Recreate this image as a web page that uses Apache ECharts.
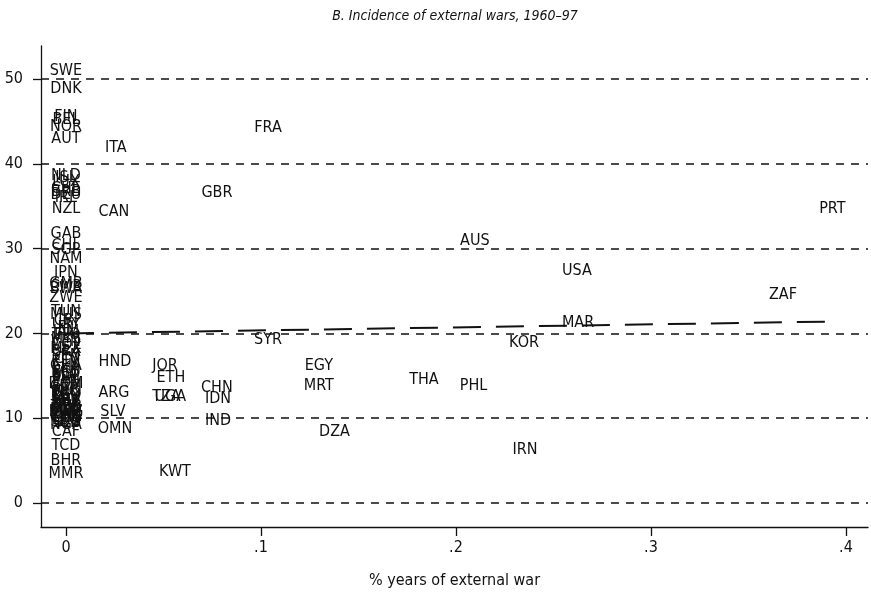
<!DOCTYPE html>
<html>
<head>
<meta charset="utf-8">
<script src="https://cdn.jsdelivr.net/npm/echarts@6/dist/echarts.min.js"></script>
<style>
html,body{margin:0;padding:0;background:#fff;}
#chart{width:871px;height:599px;}
</style>
</head>
<body>
<div id="chart"></div>
<script>
// Country codes, % years of external war (x), outcome value (y)
var codes = [
  "FRA","ITA","GBR","CAN","PRT","AUS","USA","ZAF","MAR","KOR","SYR","EGY","MRT","THA","PHL","IRN","DZA",
  "HND","ARG","SLV","OMN","JOR","ETH","TZA","UGA","CHN","IDN","IND","KWT",
  "SWE","DNK","FIN","BEL","NOR","AUT","NLD","ISL","LUX","CHE","BRB","DEU","IRL","NZL",
  "GAB","CHL","SGP","NAM","JPN","GMB","CMR","BWA","ZWE","TUN","MUS",
  "CRI","URY","FJI","JAM","TTO","MYS","VEN","COL","MEX","BRA","SEN","CIV","KEN","GHA","LKA","ECU","MLT",
  "BOL","PRY","PAN","DOM","GTM","PER","PNG","NIC","TGO","BEN","HTI","MLI","NER","NPL","BFA","ZMB","BGD",
  "MWI","SWZ","MDG","ZAR","RWA","BDI","COG","LSO","SDN","SLE","NGA",
  "CAF","TCD","BHR","MMR"
];
var xs = [
  0.1036,0.0256,0.0774,0.0246,0.393,0.2097,0.262,0.3677,0.2626,0.2349,0.1036,0.1297,0.1297,0.1836,0.209,0.2354,0.1377,
  0.0251,0.0246,0.0241,0.0251,0.0508,0.0538,0.0515,0.0535,0.0774,0.078,0.078,0.0559,
  0,0,0,0,0,0,0,0,0,0,0,0,0,0,
  0,0,0,0,0,0,0,0,0,0,0,
  0,0,0,0,0,0,0,0,0,0,0,0,0,0,0,0,0,
  0,0,0,0,0,0,0,0,0,0,0,0,0,0,0,0,0,
  0,0,0,0,0,0,0,0,0,0,0,
  0,0,0,0
];
var ys = [
  44.2,41.9,36.6,34.3,34.7,30.9,27.4,24.6,21.2,18.9,19.3,16.2,13.8,14.5,13.8,6.3,8.4,
  16.6,13.0,10.7,8.7,16.2,14.8,12.5,12.5,13.6,12.3,9.7,3.7,
  51.0,48.9,45.6,45.2,44.4,43.0,38.6,38.3,37.9,37.0,36.7,36.3,36.0,34.7,
  31.8,30.3,29.9,28.8,27.1,25.8,25.5,25.2,24.2,22.6,22.2,
  21.5,21.0,20.6,20.2,19.8,19.4,19.0,18.6,18.2,17.8,17.4,17.0,16.6,16.2,15.8,15.4,15.2,
  15.0,14.6,14.3,14.0,13.7,13.4,13.0,13.1,12.8,12.5,12.0,12.2,11.9,11.5,11.6,11.3,11.0,
  11.0,10.8,10.7,10.5,10.4,10.1,10.0,9.8,9.6,9.5,9.2,
  8.4,6.7,5.0,3.4
];
// Fitted line endpoints
var fitX = [0, 0.393];
var fitY = [20.0, 21.4];
// Tick values
var xTicks = [0, 0.1, 0.2, 0.3, 0.4];
var xTickLabels = ["0", ".1", ".2", ".3", ".4"];
var yTicks = [0, 10, 20, 30, 40, 50];

var FONT = "'Liberation Sans Narrow','DejaVu Sans Condensed','Roboto Condensed',sans-serif";
var INK = "#111111";

var pts = codes.map(function(c, i){ return {name: c, value: [xs[i], ys[i]]}; });
var fitData = fitX.map(function(x, i){ return [x, fitY[i]]; });

var chart = echarts.init(document.getElementById('chart'), null, {renderer: 'canvas'});
chart.setOption({
  animation: false,
  backgroundColor: '#fff',
  title: {
    text: 'B. Incidence of external wars, 1960\u201397',
    left: 450, top: 4, textAlign: 'center',
    textStyle: {fontFamily: FONT, fontStyle: 'italic', fontWeight: 'normal', fontSize: 14, color: INK}
  },
  grid: {left: 41, right: 3, top: 46, bottom: 72},
  xAxis: {
    type: 'value', min: -0.0128, max: 0.4113,
    name: '% years of external war', nameLocation: 'middle', nameGap: 46,
    nameTextStyle: {fontFamily: FONT, fontSize: 16, color: INK},
    axisLine: {show: true, onZero: false, lineStyle: {color: INK, width: 1.3}},
    axisTick: {show: true, customValues: xTicks, length: 9, lineStyle: {color: INK, width: 1.3}},
    axisLabel: {show: true, customValues: xTicks, margin: 13, fontFamily: FONT, fontSize: 16, color: INK,
      formatter: function(v){ var i = xTicks.findIndex(function(t){return Math.abs(t - v) < 1e-9;}); return i >= 0 ? xTickLabels[i] : ''; }},
    splitLine: {show: false}
  },
  yAxis: {
    type: 'value', min: -2.83, max: 53.9,
    axisLine: {show: true, onZero: false, lineStyle: {color: INK, width: 1.3}},
    axisTick: {show: true, customValues: yTicks, length: 8, lineStyle: {color: INK, width: 1.3}},
    axisLabel: {show: true, customValues: yTicks, margin: 18, fontFamily: FONT, fontSize: 16, color: INK},
    splitLine: {show: false}
  },
  series: [
    {
      type: 'line', data: fitData, symbol: 'none', silent: true, z: 3,
      lineStyle: {color: INK, width: 2, type: [28, 15]},
      markLine: {
        silent: true, symbol: 'none', animation: false,
        label: {show: false},
        lineStyle: {color: INK, width: 1.5, type: [8, 7]},
        data: yTicks.map(function(v){ return {yAxis: v}; })
      }
    },
    {
      type: 'scatter', data: pts, symbolSize: 0, z: 4, silent: true,
      itemStyle: {opacity: 1, color: INK},
      label: {show: true, position: 'inside', formatter: '{b}', opacity: 1,
        fontFamily: FONT, fontSize: 16, color: INK, textBorderWidth: 0, textBorderColor: 'transparent'}
    }
  ]
});
</script>
</body>
</html>
